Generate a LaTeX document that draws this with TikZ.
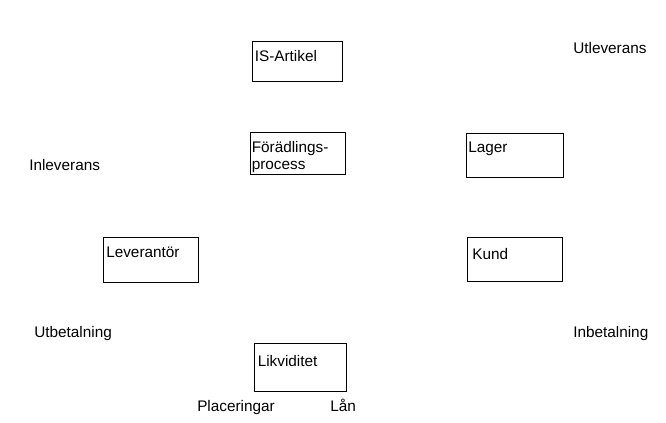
\documentclass[tikz,border=0pt]{standalone}
\usepackage{fontspec}
\setmainfont{Liberation Sans}
\begin{document}
\begin{tikzpicture}[x=0.75pt,y=-0.75pt,
  box/.style={draw=black,line width=0.75pt,inner sep=0pt},
  lbl/.style={anchor=base west,inner sep=0pt,font=\fontsize{11.5pt}{14pt}\selectfont}]
\useasboundingbox (0,0) rectangle (666,423);
% boxes
\draw[box] (252,42) rectangle (342,81.5); \coordinate (isa) at (252,42);
\draw[box] (250.5,133) rectangle (345.5,174.5); \coordinate (foe) at (250.5,133);
\draw[box] (466,134) rectangle (563,178); \coordinate (lag) at (466,134);
\draw[box] (467.5,238) rectangle (562.5,282); \coordinate (kun) at (467.5,238);
\draw[box] (103.5,237.5) rectangle (198.5,283); \coordinate (lev) at (103.5,237.5);
\draw[box] (254,343) rectangle (346.5,391.5); \coordinate (lik) at (254,343);
% box texts
\node[lbl] (tisa) at (254.5,62) {IS-Artikel};
\node[lbl] (tfoe1) at (251.5,153) {Förädlings-};
\node[lbl] (tfoe2) at (251.5,169.5) {process};
\node[lbl] (tlag) at (468,153) {Lager};
\node[lbl] (tkun) at (472,260) {Kund};
\node[lbl] (tlev) at (106,257.5) {Leverantör};
\node[lbl] (tlik) at (257.5,366) {Likviditet};
% free texts
\node[lbl] (utlev) at (573,54) {Utleverans};
\node[lbl] (inlev) at (29,170.5) {Inleverans};
\node[lbl] (utbet) at (34,337) {Utbetalning};
\node[lbl] (inbet) at (573,337) {Inbetalning};
\node[lbl] (plac) at (197,411.5) {Placeringar};
\node[lbl] (lan) at (330,411.5) {Lån};
\end{tikzpicture}
\end{document}
